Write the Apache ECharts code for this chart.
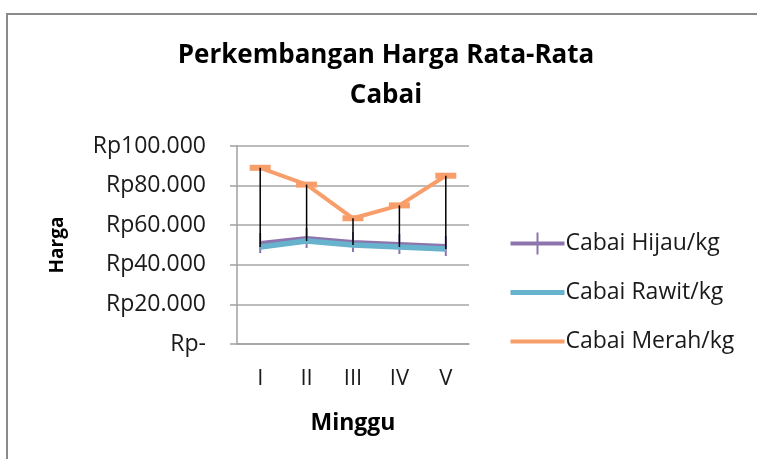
<!DOCTYPE html>
<html>
<head>
<meta charset="utf-8">
<script src="https://cdn.jsdelivr.net/npm/echarts@6/dist/echarts.min.js"></script>
<style>
html,body{margin:0;padding:0;background:#fff;}
#chart{width:757px;height:459px;}
</style>
</head>
<body>
<div id="chart"></div>
<script>
const categories = ['I', 'II', 'III', 'IV', 'V'];
const hijau = [51000, 53500, 51500, 50500, 49500];
const rawit = [49000, 52000, 50000, 49000, 48000];
const merah = [89000, 80500, 63500, 70000, 85000];
const yTickValues = [0, 20000, 40000, 60000, 80000, 100000];
const yTickLabels = ['Rp-', 'Rp20.000', 'Rp40.000', 'Rp60.000', 'Rp80.000', 'Rp100.000'];
const seriesNames = ['Cabai Hijau/kg', 'Cabai Rawit/kg', 'Cabai Merah/kg'];

const FONT = 'Open Sans';
const hiLo = categories.map((c, i) => [i, Math.max(hijau[i], rawit[i], merah[i]), Math.min(hijau[i], rawit[i], merah[i])]);

const chart = echarts.init(document.getElementById('chart'), null, {renderer: 'canvas'});
chart.setOption({
  animation: false,
  backgroundColor: '#fff',
  textStyle: {fontFamily: FONT},
  graphic: [{
    type: 'rect', shape: {x: 7, y: 14, width: 780, height: 480},
    style: {fill: 'none', stroke: '#8a8a8a', lineWidth: 2}, silent: true, z: -1
  }],
  title: {
    text: 'Perkembangan Harga Rata-Rata\nCabai',
    left: 381, top: 31, textAlign: 'center',
    textStyle: {fontFamily: FONT, fontSize: 26, fontWeight: 'bold', color: '#000', lineHeight: 40}
  },
  legend: {
    orient: 'vertical', left: 508, top: 232, padding: 0,
    itemWidth: 54, itemHeight: 22, itemGap: 26,
    textStyle: {fontFamily: FONT, fontSize: 23, color: '#1a1a1a', padding: [0, 0, 0, -4]},
    data: [
      {name: seriesNames[0], icon: 'path://M0,9h26v-9h2v9h26v4h-26v9h-2v-9h-26z'},
      {name: seriesNames[1], itemStyle: {opacity: 0}, lineStyle: {width: 5}},
      {name: seriesNames[2], itemStyle: {opacity: 0}, lineStyle: {width: 4}}
    ]
  },
  grid: {left: 237, right: 288, top: 146, bottom: 115, containLabel: false},
  xAxis: {
    type: 'category', data: categories, boundaryGap: true,
    name: 'Minggu', nameLocation: 'middle', nameGap: 68,
    nameTextStyle: {fontFamily: FONT, fontSize: 23, fontWeight: 'bold', color: '#000'},
    axisLine: {show: true, lineStyle: {color: '#a0a0a0', width: 1.5}},
    axisTick: {show: false},
    axisLabel: {fontFamily: FONT, fontSize: 22, color: '#1a1a1a', margin: 24}
  },
  yAxis: {
    type: 'value', min: 0, max: 100000, interval: 20000,
    name: 'Harga', nameLocation: 'middle', nameGap: 170, nameRotate: 90,
    nameTextStyle: {fontFamily: FONT, fontSize: 19, fontWeight: 'bold', color: '#000'},
    axisLine: {show: true, lineStyle: {color: '#a0a0a0', width: 1.5}},
    axisTick: {show: true, inside: false, length: 7, lineStyle: {color: '#a0a0a0', width: 1.5}},
    splitLine: {show: true, lineStyle: {color: '#a6a6a6', width: 1.5}},
    axisLabel: {
      fontFamily: FONT, fontSize: 23, color: '#1a1a1a', margin: 31,
      formatter: v => yTickLabels[yTickValues.indexOf(v)]
    }
  },
  series: [
    {
      name: seriesNames[0], type: 'line', data: hijau,
      symbol: 'rect', symbolSize: [2, 20],
      itemStyle: {color: '#8e74ad'}, lineStyle: {color: '#8e74ad', width: 4}, z: 3
    },
    {
      name: seriesNames[1], type: 'line', data: rawit,
      symbol: 'none', itemStyle: {color: '#67b2cd'}, lineStyle: {color: '#67b2cd', width: 5.5}, z: 4
    },
    {
      name: seriesNames[2], type: 'line', data: merah,
      symbol: 'rect', symbolSize: [21, 6],
      itemStyle: {color: '#f79e6b'}, lineStyle: {color: '#f79e6b', width: 4}, z: 5
    },
    {
      type: 'custom', name: 'hilo', z: 10, silent: true,
      data: hiLo,
      renderItem: function (params, api) {
        const hi = api.coord([api.value(0), api.value(1)]);
        const lo = api.coord([api.value(0), api.value(2)]);
        return {type: 'line', shape: {x1: hi[0], y1: hi[1], x2: lo[0], y2: lo[1]},
          style: {stroke: '#000', lineWidth: 1.5}};
      }
    }
  ]
});
</script>
</body>
</html>
